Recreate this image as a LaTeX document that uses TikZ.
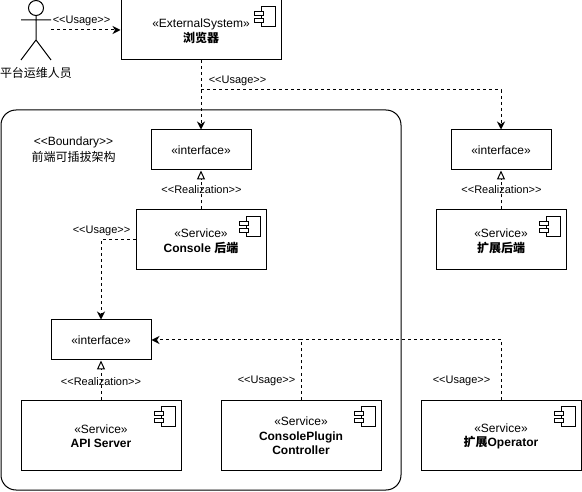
\documentclass[tikz,border=0pt]{standalone}
\usepackage{fontspec}
\setmainfont{Liberation Sans}
\newfontfamily\cjk{Noto Sans CJK SC}
\usetikzlibrary{arrows.meta}
\tikzset{
  x=1pt,y=-1pt,
  every node/.style={font=\fontsize{12}{14.5}\selectfont},
  box/.style={draw,line width=1pt,align=center,inner sep=0pt},
  ifacebox/.style={box,minimum width=100pt,minimum height=40pt},
  backend/.style={box,minimum width=130pt,minimum height=60pt},
  svc/.style={box,minimum width=160pt,minimum height=70pt},
  lbl/.style={font=\fontsize{11}{13}\selectfont,inner sep=0pt},
  plain/.style={inner sep=0pt,align=center},
  usage/.style={line width=1pt,dash pattern=on 3pt off 3pt,-{Stealth[length=8pt,width=8pt,inset=2.5pt]}},
  realize/.style={line width=1pt,dash pattern=on 3pt off 3pt,-{Triangle[open,length=9pt,width=8pt]}},
  comp/.pic={
    \draw[line width=1pt,fill=white] (0,0) rectangle (14,20);
    \draw[line width=1pt,fill=white] (-7,5) rectangle (2,9);
    \draw[line width=1pt,fill=white] (-7,12) rectangle (2,16);
  }
}
\newcommand{\st}[1]{\guillemotleft #1\guillemotright}
\newcommand{\sv}[1]{\rule{0pt}{11pt}\st{#1}}
\begin{document}
\begin{tikzpicture}
\useasboundingbox (0,0) rectangle (582,492);
\node[draw,line width=1pt,rounded corners=15pt,minimum width=400pt,minimum height=380pt,inner sep=0pt] (bound) at (201,300) {};

\node[box,minimum width=160pt,minimum height=60pt] (browser) at (201,30) {\sv{ExternalSystem}\\\textbf{\cjk 浏览器}};
\node[ifacebox] (ifa) at (201,150) {\st{interface}};
\node[ifacebox] (ifr) at (501,150) {\st{interface}};
\node[backend] (console) at (201,240) {\sv{Service}\\\textbf{Console {\cjk 后端}}};
\node[backend] (extback) at (501,240) {\sv{Service}\\\textbf{\cjk 扩展后端}};
\node[ifacebox] (ifb) at (101,340) {\st{interface}};
\node[svc] (api) at (101,435) {\sv{Service}\\\textbf{API Server}};
\node[svc] (cpc) at (301,435) {\sv{Service}\\\textbf{ConsolePlugin}\\\textbf{Controller}};
\node[svc] (op) at (501,435) {\sv{Service}\\\textbf{{\cjk 扩展}Operator}};

\pic at ([xshift=-20pt,yshift=-7pt]browser.north east) {comp};
\pic at ([xshift=-20pt,yshift=-7pt]console.north east) {comp};
\pic at ([xshift=-20pt,yshift=-7pt]extback.north east) {comp};
\pic at ([xshift=-20pt,yshift=-7pt]api.north east) {comp};
\pic at ([xshift=-20pt,yshift=-7pt]cpc.north east) {comp};
\pic at ([xshift=-20pt,yshift=-7pt]op.north east) {comp};

% actor
\draw[line width=1pt] (36,8) circle (7.5pt);
\draw[line width=1pt] (36,15.5) -- (36,40) (21,20) -- (51,20) (21,60) -- (36,40) -- (51,60);
\coordinate (actor) at (51,30);
\node[plain] (actorlbl) at (36,73) {\cjk 平台运维人员};

\node[plain,font=\fontsize{12}{16}\selectfont] (boundlbl) at (73.5,150) {<{}<Boundary>{}>\\{\cjk 前端可插拔架构}};

% connectors
\draw[usage] (actor) -- (browser.west);
\draw[usage] (browser.south) -- (ifa.north);
\coordinate (junc) at (201,90);
\draw[usage] (junc) -| (ifr.north);
\draw[realize] (console.north) -- (ifa.south);
\draw[realize] (extback.north) -- (ifr.south);
\draw[usage] (console.west) -| (ifb.north);
\draw[realize] (api.north) -- (ifb.south);
\draw[usage] (cpc.north) |- (ifb.east);
\draw[line width=1pt,dash pattern=on 3pt off 3pt] (op.north) |- (cpc.north |- ifb.east);

% labels
\node[lbl] (u1) at (81.5,21) {<{}<Usage>{}>};
\node[lbl] (u2) at (237.5,81) {<{}<Usage>{}>};
\node[lbl] (u3) at (101.5,231) {<{}<Usage>{}>};
\node[lbl] (u4) at (266.5,381) {<{}<Usage>{}>};
\node[lbl] (u5) at (461.5,381) {<{}<Usage>{}>};
\node[lbl] (r1) at (201.5,190) {<{}<Realization>{}>};
\node[lbl] (r2) at (501.5,190) {<{}<Realization>{}>};
\node[lbl] (r3) at (101,381.5) {<{}<Realization>{}>};
\end{tikzpicture}
\end{document}
